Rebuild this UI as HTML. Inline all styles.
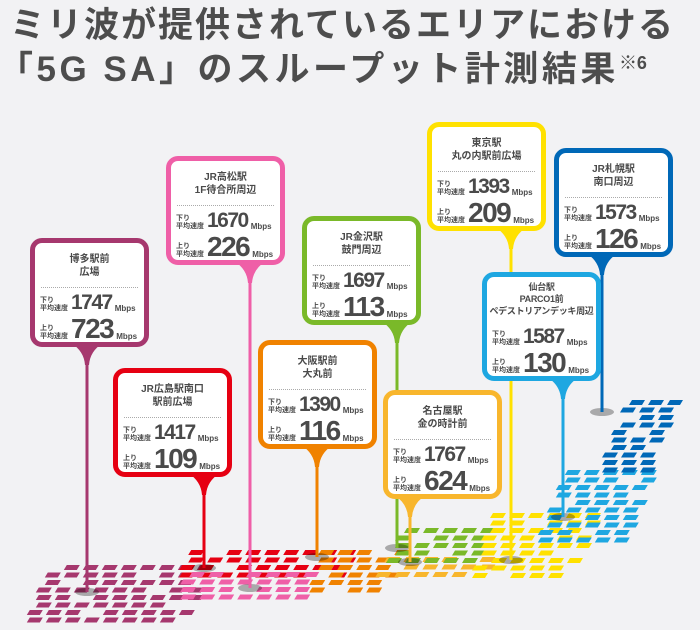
<!DOCTYPE html>
<html><head><meta charset="utf-8"><style>
body{margin:0;background:#f2f2f4;}
#c{position:relative;width:700px;height:630px;overflow:hidden;background:#f2f2f4;font-family:"Liberation Sans","Noto Sans CJK JP",sans-serif;color:#4a4a4a;}
.t{position:absolute;left:10px;font-weight:bold;font-size:35px;white-space:nowrap;color:#4d4d4d;line-height:40px;}
.b{position:absolute;width:109px;height:99px;border:5px solid;border-radius:12px;background:#fff;}
.n{position:absolute;top:10px;left:0;right:0;text-align:center;font-size:10px;font-weight:bold;line-height:13px;white-space:nowrap;}
.sep{position:absolute;top:44px;left:6px;right:6px;border-top:1px dotted #aaa;}
.r{position:absolute;left:5px;white-space:nowrap;}
.l{display:inline-block;font-size:7px;font-weight:bold;line-height:8px;vertical-align:bottom;margin-right:3px;}
.v{font-size:21px;font-weight:bold;letter-spacing:-1.5px;vertical-align:bottom;line-height:20px;}
.r2 .v{font-size:28px;letter-spacing:-1.5px;line-height:25px;}
.m{font-size:8px;font-weight:bold;vertical-align:bottom;margin-left:3px;}
</style></head><body><div id="c">
<div class="t" style="top:6px;letter-spacing:2px">ミリ波が提供されているエリアにおける</div>
<div class="t" style="top:50px;left:-2px;letter-spacing:3.5px">「5G SA」のスループット計測結果<span style="font-size:18px;vertical-align:top;line-height:26px;letter-spacing:0">※6</span></div>
<svg id="s" width="700" height="630" style="position:absolute;left:0;top:0"></svg>
<div id="boxes"></div>
</div>
<script>
var B=[
["博多駅前<br>広場","1747","723",30,238,"#a6386e",87,592],
["JR広島駅南口<br>駅前広場","1417","109",113,368,"#e60012",204,568],
["JR高松駅<br>1F待合所周辺","1670","226",166,156,"#ef5fa7",250,588],
["大阪駅前<br>大丸前","1390","116",258,340,"#f08200",317,557],
["JR金沢駅<br>鼓門周辺","1697","113",302,216,"#7ab929",397,548],
["名古屋駅<br>金の時計前","1767","624",383,390,"#f8b62d",410,562],
["東京駅<br>丸の内駅前広場","1393","209",427,122,"#ffe100",511,560],
["仙台駅<br>PARCO1前<br>ペデストリアンデッキ周辺","1587","130",482,272,"#1ea7e1",563,517],
["JR札幌駅<br>南口周辺","1573","126",554,148,"#0068b7",602,412]];
var C=[["#a6386e",22,565,178,622],["#e60012",174,550,344,578],["#ef5fa7",172,572,297,600],["#f08200",301,550,380,593],["#f8b62d",373,557,484,578],["#7ab929",384,528,469,563],["#ffe100",464,513,565,578],["#1ea7e1",533,470,618,542],["#0068b7",595,400,650,470]];
var s='',h='';
C.forEach(function(c,k){var i=0;for(var y=c[2];y<c[4];y+=7.5){var j=0;for(var x=c[1]+((i*37+k)%3)*3;x<c[3];x+=19){if(((i*7+j*13+k*5)%9)!=0){var off=(c[4]-y)*0.4;s+='<polygon points="'+(x+off+3)+','+y+' '+(x+off+16)+','+y+' '+(x+off+13)+','+(y+5)+' '+(x+off)+','+(y+5)+'" fill="'+c[0]+'"/>';}j++;}i++;}});
B.forEach(function(b){var cx=b[6],bot=b[4]+109;
s+='<ellipse cx="'+cx+'" cy="'+b[7]+'" rx="12" ry="4" fill="#000" opacity="0.3"/>';
s+='<rect x="'+(cx-1.5)+'" y="'+bot+'" width="3" height="'+(b[7]-bot)+'" fill="'+b[5]+'"/>';
s+='<path d="M'+(cx-16)+','+(bot-4)+' Q'+(cx-3)+','+(bot+4)+' '+(cx-2)+','+(bot+18)+' L'+(cx+2)+','+(bot+18)+' Q'+(cx+3)+','+(bot+4)+' '+(cx+16)+','+(bot-4)+'Z" fill="'+b[5]+'"/>';
var three=b[0].split('<br>').length>2;
h+='<div class="b" style="left:'+b[3]+'px;top:'+b[4]+'px;border-color:'+b[5]+'"><div class="n"'+(three?' style="top:4px;font-size:9px;line-height:12px;letter-spacing:-0.3px"':'')+'>'+b[0]+'</div>'+(three?'':'<div class="sep"></div>')+
'<div class="r" style="top:50px"><span class="l">下り<br>平均速度</span><span class="v">'+b[1]+'</span><span class="m">Mbps</span></div>'+
'<div class="r r2" style="top:73px"><span class="l">上り<br>平均速度</span><span class="v">'+b[2]+'</span><span class="m">Mbps</span></div></div>';});
document.getElementById('s').innerHTML=s;document.getElementById('boxes').innerHTML=h;
</script>
</body></html>
